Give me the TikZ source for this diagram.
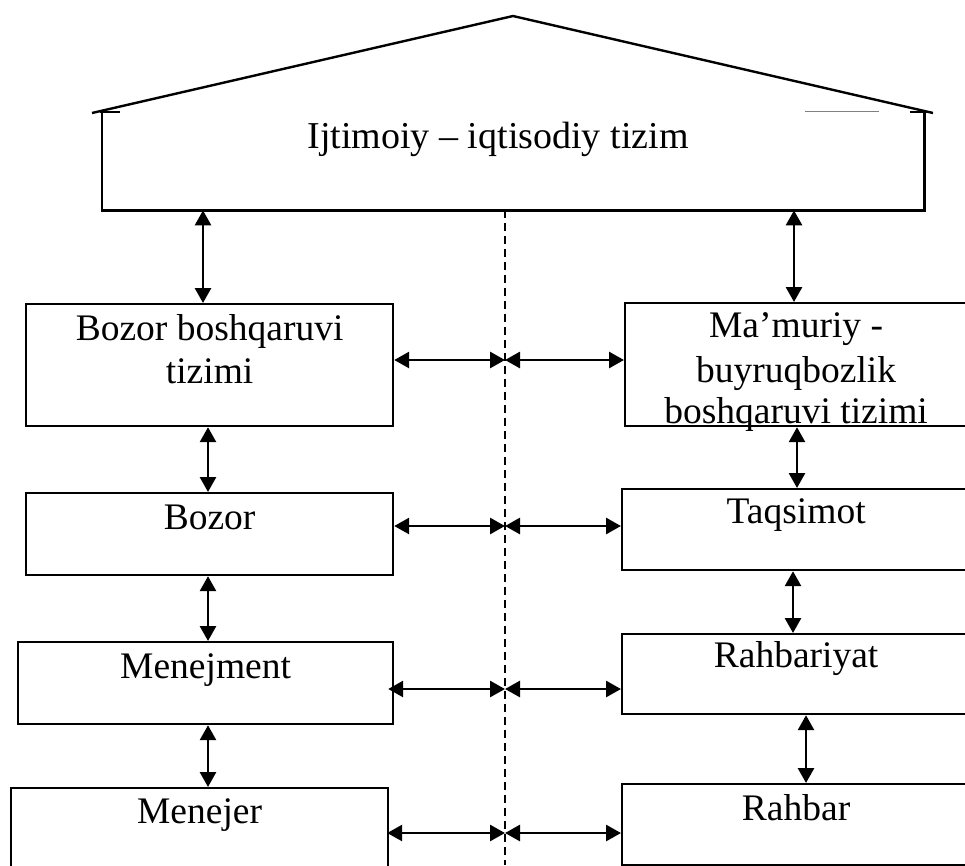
\documentclass[tikz,border=0pt]{standalone}
\usepackage{fontspec}
\setmainfont{Liberation Serif}
\usetikzlibrary{arrows.meta}
\begin{document}
\begin{tikzpicture}[x=1pt,y=-1pt,
  box/.style={draw, line width=2.2pt, inner sep=0pt, anchor=north west},
  lbl/.style={font=\fontsize{37.5}{43}\selectfont, anchor=base, inner sep=0pt},
  tipT/.tip={Triangle[length=15pt,width=16pt]},
  arr/.style={line width=2.8pt, tipT-tipT},
  edge/.style={line width=2.4pt},
  dashline/.style={line width=1.5pt, dash pattern=on 8pt off 5pt},
]
\useasboundingbox (0,0) rectangle (965,865);
\clip (0,0) rectangle (965,865);

% house
\node[inner sep=0pt, minimum width=822pt, minimum height=98pt, anchor=north west] (house) at (102,112) {};
\coordinate (apex) at (513,16);
\coordinate (rl) at (92,113);
\coordinate (rr) at (933,113);
\draw[edge, line join=miter] (rl) -- (apex) -- (rr);
\draw[edge] (house.north west) -- (house.south west) -- (house.south east) -- (house.north east);
\draw[edge] ([xshift=-2pt]house.north west) -- ([xshift=18pt]house.north west);
\draw[edge] ([xshift=-14pt]house.north east) -- ([xshift=3pt]house.north east);
\coordinate (g1) at (805,111);
\coordinate (g2) at (879,111);
\draw[gray, line width=0.8pt] (g1) -- (g2);
\node[lbl, font=\fontsize{38}{43}\selectfont] (ht) at (498,148) {Ijtimoiy – iqtisodiy tizim};

% left boxes
\node[box, minimum width=367pt, minimum height=122pt] (lb1) at (25,303) {};
\node[box, minimum width=367pt, minimum height=82pt] (lb2) at (25,492) {};
\node[box, minimum width=375pt, minimum height=82pt] (lb3) at (17,641) {};
\node[box, minimum width=377pt, minimum height=110pt] (lb4) at (10,787) {};

% right boxes
\node[box, minimum width=342pt, minimum height=123pt] (rb1) at (624,302) {};
\node[box, minimum width=348pt, minimum height=81pt] (rb2) at (621,488) {};
\node[box, minimum width=348pt, minimum height=80pt] (rb3) at (621,633) {};
\node[box, minimum width=348pt, minimum height=81pt] (rb4) at (621,783) {};

% labels
\node[lbl] (t1a) at ([yshift=-37pt]lb1.north) {Bozor boshqaruvi};
\node[lbl] (t1b) at ([yshift=-80pt]lb1.north) {tizimi};
\node[lbl] (t2) at ([yshift=-37pt]lb2.north) {Bozor};
\node[lbl] (t3) at ([yshift=-37pt]lb3.north) {Menejment};
\node[lbl] (t4) at ([yshift=-36pt]lb4.north) {Menejer};
\node[lbl] (r1a) at ([yshift=-35pt]rb1.north) {Ma’muriy -};
\node[lbl] (r1b) at ([yshift=-80pt]rb1.north) {buyruqbozlik};
\node[lbl] (r1c) at ([yshift=-121pt]rb1.north) {boshqaruvi tizimi};
\node[lbl] (r2) at ([yshift=-35pt]rb2.north) {Taqsimot};
\node[lbl] (r3) at ([yshift=-34pt]rb3.north) {Rahbariyat};
\node[lbl] (r4) at ([yshift=-37pt]rb4.north) {Rahbar};

% dashed divider
\coordinate (d1) at (505,865);
\draw[dashline] (house.south -| d1) -- (d1);

% vertical arrows
\draw[arr] (house.south -| 203,0) -- (lb1.north -| 203,0);
\draw[arr] (house.south -| 794,0) -- (rb1.north -| 794,0);
\draw[arr] (lb1.south -| 208,0) -- (lb2.north -| 208,0);
\draw[arr] (lb2.south -| 208,0) -- (lb3.north -| 208,0);
\draw[arr] (lb3.south -| 208,0) -- (lb4.north -| 208,0);
\draw[arr] (rb1.south -| 797,0) -- (rb2.north -| 797,0);
\draw[arr] (rb2.south -| 793,0) -- (rb3.north -| 793,0);
\draw[arr] (rb3.south -| 806,0) -- (rb4.north -| 806,0);

% horizontal arrows
\coordinate (m1) at (505,360);
\coordinate (m2) at (505,526);
\coordinate (m3) at (505,689);
\coordinate (m4) at (505,833);
\draw[arr] (lb1.east |- m1) -- (m1);
\draw[arr] (m1) -- (rb1.west |- m1);
\draw[arr] (lb2.east |- m2) -- (m2);
\draw[arr] (m2) -- (rb2.west |- m2);
\draw[arr] ([xshift=-6pt]lb3.east |- m3) -- (m3);
\draw[arr] (m3) -- (rb3.west |- m3);
\draw[arr] ([xshift=-2pt]lb4.east |- m4) -- (m4);
\draw[arr] (m4) -- (rb4.west |- m4);
\end{tikzpicture}
\end{document}
